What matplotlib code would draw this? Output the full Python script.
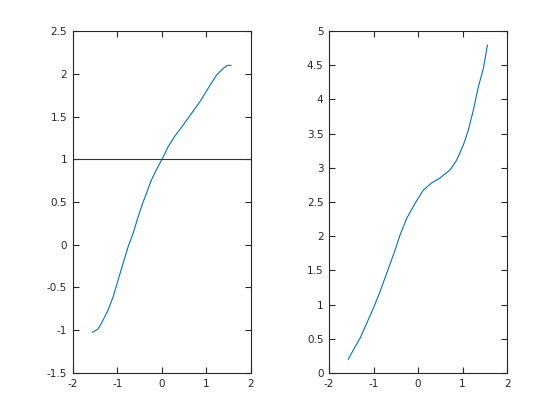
import numpy as np
import matplotlib.pyplot as plt

# left panel curve
x1 = [-1.557, -1.431, -1.319, -1.207, -1.094, -0.982, -0.87, -0.757, -0.645,
      -0.533, -0.42, -0.308, -0.232, -0.12, 0.007, 0.142, 0.292, 0.479,
      0.667, 0.854, 1.04, 1.229, 1.378, 1.476, 1.551]
y1 = [-1.024, -0.985, -0.88, -0.763, -0.608, -0.412, -0.217, -0.023, 0.134,
      0.328, 0.50, 0.655, 0.76, 0.88, 1.003, 1.147, 1.272, 1.40,
      1.537, 1.673, 1.83, 1.985, 2.064, 2.099, 2.099]
ref_level = 1.0

# right panel curve
x2 = [-1.566, -1.454, -1.303, -1.153, -1.004, -0.854, -0.704, -0.555, -0.404,
      -0.254, -0.067, 0.119, 0.307, 0.478, 0.719, 0.868, 1.018, 1.13,
      1.243, 1.355, 1.468, 1.558]
y2 = [0.20, 0.336, 0.507, 0.727, 0.946, 1.189, 1.458, 1.725, 2.018,
      2.262, 2.48, 2.675, 2.78, 2.845, 2.968, 3.114, 3.333, 3.553,
      3.845, 4.186, 4.455, 4.795]

blue = '#0072BD'
txt = '#262626'

fig = plt.figure(figsize=(5.6, 4.2), dpi=100)
ax1 = fig.add_axes([0.130, 0.112, 0.318, 0.814])
ax2 = fig.add_axes([0.5875, 0.112, 0.318, 0.814])

ax1.plot(x1, y1, color=blue, lw=0.8)
ax1.axhline(ref_level, color='#333333', lw=0.8)
ax1.set_xlim(-2, 2)
ax1.set_ylim(-1.5, 2.5)
ax1.set_yticks(np.arange(-1.5, 2.51, 0.5))
ax1.set_yticklabels(['-1.5', '-1', '-0.5', '0', '0.5', '1', '1.5', '2', '2.5'])

ax2.plot(x2, y2, color=blue, lw=0.8)
ax2.set_xlim(-2, 2)
ax2.set_ylim(0, 5)
ax2.set_yticks(np.arange(0, 5.01, 0.5))
ax2.set_yticklabels(['0', '0.5', '1', '1.5', '2', '2.5', '3', '3.5', '4', '4.5', '5'])

for ax in (ax1, ax2):
    ax.set_xticks([-2, -1, 0, 1, 2])
    ax.set_xticklabels(['-2', '-1', '0', '1', '2'])
    ax.tick_params(direction='in', top=True, right=True, length=4, width=0.8,
                   labelsize=7.5, colors=txt, labelcolor=txt, pad=4)
    for s in ax.spines.values():
        s.set_color(txt)
        s.set_linewidth(0.8)

fig.savefig('out.png', dpi=100)
